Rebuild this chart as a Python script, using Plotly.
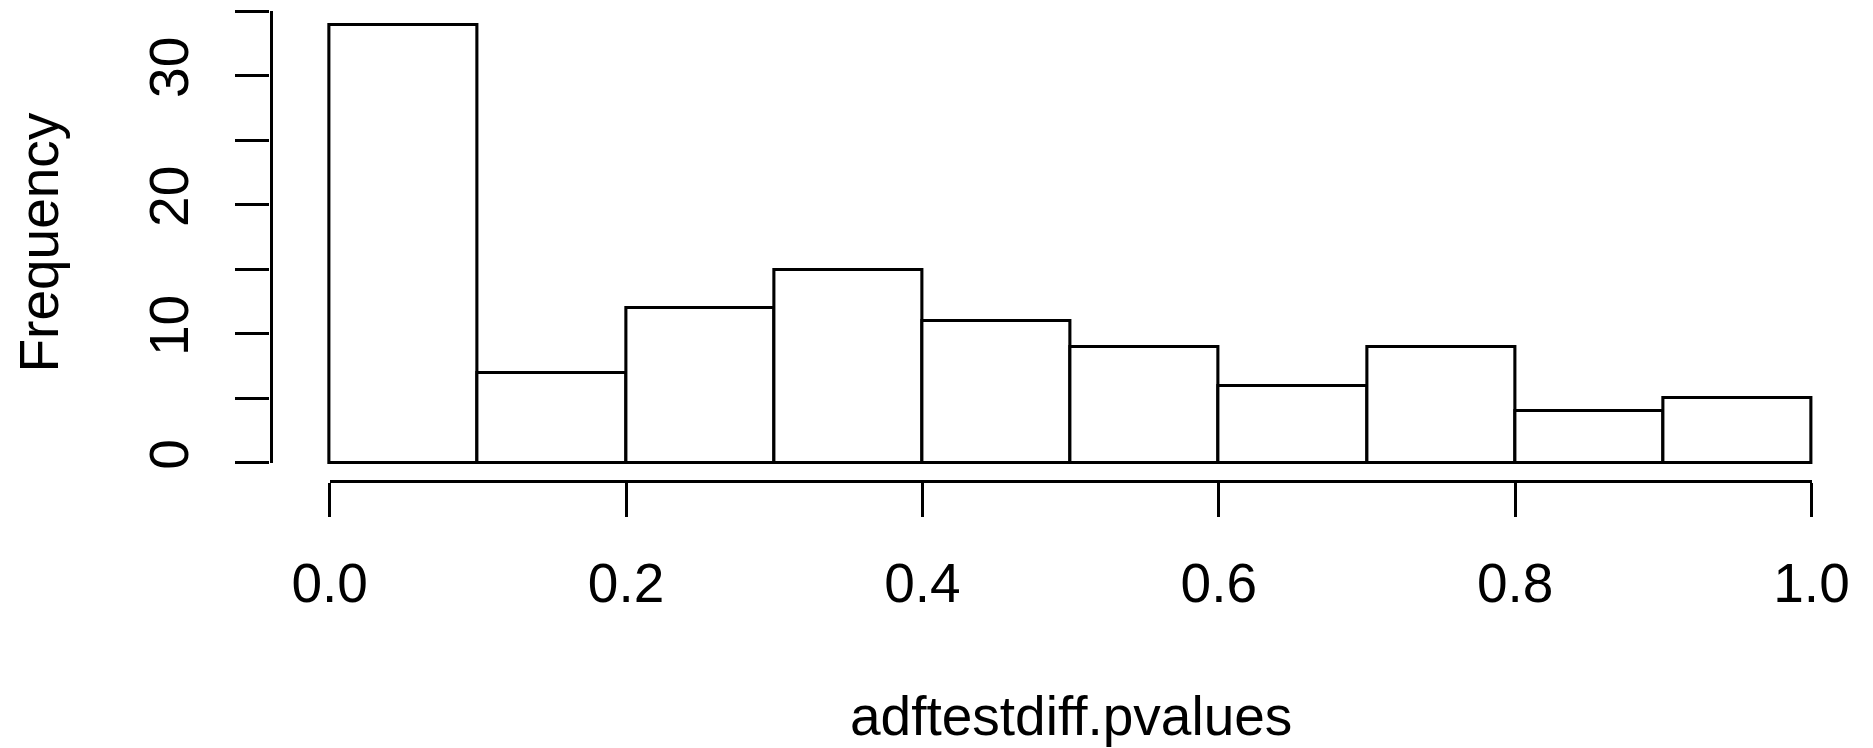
import plotly.graph_objects as go

# ---- data ----
bin_starts = [0.0, 0.1, 0.2, 0.3, 0.4, 0.5, 0.6, 0.7, 0.8, 0.9]
bin_width = 0.1
counts = [34, 7, 12, 15, 11, 9, 6, 9, 4, 5]

x_tickvals = [0.0, 0.2, 0.4, 0.6, 0.8, 1.0]
x_ticktext = ["0.0", "0.2", "0.4", "0.6", "0.8", "1.0"]
y_tickvals = [0, 5, 10, 15, 20, 25, 30, 35]
y_ticktext = ["0", "", "10", "", "20", "", "30", ""]

x_title = "adftestdiff.pvalues"
y_title = "Frequency"

OFF = 8                      # default body margin of the html page
W, H = 1873 - OFF, 748 - OFF
FONT = "Liberation Sans, Arial, Helvetica, sans-serif"
FS = 55
LW = 3.1

def px_x(p):
    return (p - OFF) / W

def px_y(p):
    return 1 - (p - OFF) / H

# pixel geometry (window coordinates)
x0_px, x1_px = 329.7, 1811.5      # data x=0 and x=1
y0_px, y35_px = 462.7, 11.0       # data y=0 and y=35
ux = (x1_px - x0_px) / 1.0
uy = (y0_px - y35_px) / 35.0
xr = (-0.04, 1.04)
yr = (-1.36, 35.36)

centers = [b + bin_width / 2 for b in bin_starts]

fig = go.Figure()
fig.add_trace(go.Bar(
    x=centers, y=counts, width=[bin_width] * len(counts),
    marker=dict(color="white", line=dict(color="black", width=LW)),
    xaxis="x", yaxis="y", showlegend=False, hoverinfo="x+y",
))
# invisible trace to create the axis subplot used for R-style detached axes
fig.add_trace(go.Scatter(x=[0, 1], y=[0, 35], mode="markers",
                         marker=dict(opacity=0), xaxis="x2", yaxis="y2",
                         showlegend=False, hoverinfo="skip"))

main_xdom = [px_x(x0_px + xr[0] * ux), min(1.0, px_x(x0_px + xr[1] * ux))]
main_ydom = [px_y(y0_px - yr[0] * uy), min(1.0, px_y(y0_px - yr[1] * uy))]

fig.update_layout(
    template="none",
    width=W, height=H, autosize=False,
    margin=dict(l=0, r=0, t=0, b=0, pad=0),
    paper_bgcolor="white", plot_bgcolor="rgba(0,0,0,0)",
    font=dict(family=FONT, size=FS, color="black"),
    bargap=0,
    xaxis=dict(domain=main_xdom, range=list(xr), visible=False,
               fixedrange=True, automargin=False),
    yaxis=dict(domain=main_ydom, range=list(yr), visible=False,
               fixedrange=True, automargin=False),
    xaxis2=dict(
        domain=[px_x(x0_px), px_x(x1_px)], range=[0, 1],
        anchor="free", position=px_y(480.5), automargin=False,
        showline=True, linecolor="black", linewidth=LW,
        ticks="outside", ticklen=34, tickwidth=LW, tickcolor="black",
        tickvals=x_tickvals, ticktext=x_ticktext,
        showgrid=False, zeroline=False, ticklabelstandoff=19,
        tickfont=dict(family=FONT, size=FS, color="black"), fixedrange=True,
    ),
    yaxis2=dict(
        domain=[px_y(y0_px), px_y(y35_px)], range=[0, 35],
        anchor="free", position=px_x(270.5), automargin=False,
        showline=True, linecolor="black", linewidth=LW,
        ticks="outside", ticklen=34, tickwidth=LW, tickcolor="black",
        tickvals=y_tickvals, ticktext=y_ticktext, tickangle=-90,
        showgrid=False, zeroline=False, ticklabelstandoff=25,
        tickfont=dict(family=FONT, size=FS, color="black"), fixedrange=True,
    ),
    annotations=[
        dict(text=x_title, x=px_x(1071), y=px_y(716), xref="paper", yref="paper",
             xanchor="center", yanchor="middle", showarrow=False,
             font=dict(family=FONT, size=FS, color="black")),
        dict(text=y_title, x=px_x(38), y=px_y(242.5), xref="paper", yref="paper",
             xanchor="center", yanchor="middle", showarrow=False, textangle=-90,
             font=dict(family=FONT, size=FS, color="black")),
    ],
)

fig.write_html("out.html")
